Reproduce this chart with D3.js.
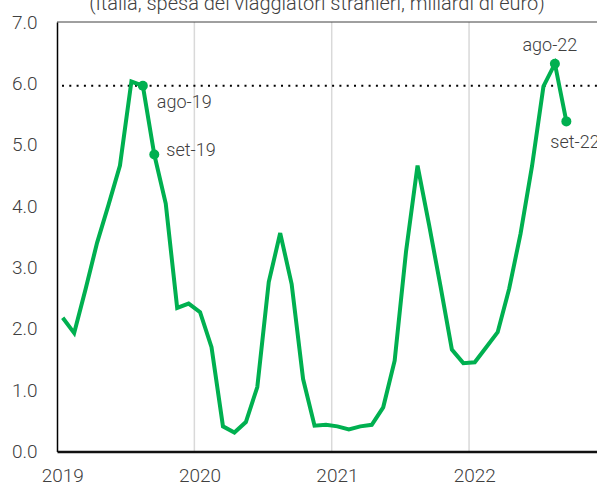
<!DOCTYPE html>
<html>
  <head>
    <meta charset="utf-8" />
    <script src="https://cdn.jsdelivr.net/npm/d3@7"></script>
    <style>
      body { margin: 0; background: #fff; }
      text { font-family: Roboto, "Noto Sans", sans-serif; font-weight: 300; }
    </style>
  </head>
  <body>
    <script>
      // months shown on the category axis (gen-19 ... dic-22)
      const years = [2019, 2020, 2021, 2022];
      const monthNames = ["gen", "feb", "mar", "apr", "mag", "giu", "lug", "ago", "set", "ott", "nov", "dic"];
      const categories = years.flatMap((y) => monthNames.map((m) => m + "-" + String(y).slice(2)));

      // spesa dei viaggiatori stranieri, miliardi di euro (gen-19 ... set-22)
      const values = [
        2.18, 1.93, 2.65, 3.4, 4.02, 4.66, 6.03, 5.96, 4.84, 4.04, 2.34, 2.41,
        2.27, 1.7, 0.41, 0.31, 0.48, 1.05, 2.76, 3.56, 2.73, 1.18, 0.42, 0.435,
        0.41, 0.36, 0.41, 0.435, 0.72, 1.48, 3.27, 4.66, 3.7, 2.7, 1.66, 1.44,
        1.455, 1.7, 1.945, 2.65, 3.55, 4.65, 5.95, 6.32, 5.38
      ];

      const yTicks = [0, 1, 2, 3, 4, 5, 6, 7];
      const highlighted = ["ago-19", "set-19", "ago-22", "set-22"];
      const referenceMonth = "ago-19";
      const title = "(Italia, spesa dei viaggiatori stranieri, miliardi di euro)";

      const width = 597, height = 487;
      const margin = { top: 22, left: 57, bottom: 35.5 };

      const svg = d3.select("body").append("svg")
        .attr("width", width)
        .attr("height", height);

      const data = values.map((v, i) => ({ month: categories[i], value: v }));

      // plot area runs past the right edge of the picture
      const x = d3.scaleBand()
        .domain(categories)
        .range([margin.left, margin.left + categories.length * 11.446]);

      const y = d3.scaleLinear()
        .domain([0, 7])
        .range([height - margin.bottom, margin.top]);

      const cx = (m) => x(m) + x.bandwidth() / 2;

      // title (top half falls outside the picture, as in the source)
      svg.append("text")
        .attr("x", 317)
        .attr("y", 10)
        .attr("text-anchor", "middle")
        .attr("font-size", 20)
        .attr("fill", "#404040")
        .text(title);

      // vertical gridlines between dic and gen
      svg.append("g")
        .selectAll("line")
        .data(years.slice(1))
        .join("line")
        .attr("x1", (yr) => x("gen-" + String(yr).slice(2)))
        .attr("x2", (yr) => x("gen-" + String(yr).slice(2)))
        .attr("y1", y(7))
        .attr("y2", y(0))
        .attr("stroke", "#d9d9d9")
        .attr("stroke-width", 1.5);

      // top border of the plot area
      svg.append("line")
        .attr("x1", margin.left)
        .attr("x2", width)
        .attr("y1", y(7))
        .attr("y2", y(7))
        .attr("stroke", "#404040")
        .attr("stroke-width", 1);

      // y axis
      const yAxis = svg.append("g")
        .attr("transform", `translate(${margin.left},0)`)
        .call(d3.axisLeft(y).tickValues(yTicks).tickFormat(d3.format(".1f")).tickSize(0).tickPadding(19.5));
      yAxis.select(".domain").attr("stroke", "#000").attr("stroke-width", 1.5);
      yAxis.selectAll("text")
        .attr("font-size", 19)
        .attr("font-family", "Roboto, sans-serif")
        .attr("fill", "#404040");

      // x axis, year labels on january
      const xAxis = svg.append("g")
        .attr("transform", `translate(0,${y(0)})`)
        .call(d3.axisBottom(x)
          .tickValues(years.map((yr) => "gen-" + String(yr).slice(2)))
          .tickFormat((m) => "20" + m.slice(4))
          .tickSize(0)
          .tickPadding(17));
      xAxis.select(".domain").attr("stroke", "#111").attr("stroke-width", 2.5);
      xAxis.selectAll("text")
        .attr("font-size", 19)
        .attr("font-family", "Roboto, sans-serif")
        .attr("fill", "#404040");

      // dotted reference line at ago-19 level
      const refValue = data.find((d) => d.month === referenceMonth).value;
      svg.append("line")
        .attr("x1", 62)
        .attr("x2", width)
        .attr("y1", y(refValue))
        .attr("y2", y(refValue))
        .attr("stroke", "#000")
        .attr("stroke-width", 2)
        .attr("stroke-dasharray", "2,5.3");

      // the series
      svg.append("path")
        .datum(data)
        .attr("fill", "none")
        .attr("stroke", "#00b050")
        .attr("stroke-width", 4)
        .attr("stroke-linejoin", "miter")
        .attr("d", d3.line().x((d) => cx(d.month)).y((d) => y(d.value)));

      const marked = data.filter((d) => highlighted.includes(d.month));

      svg.append("g")
        .selectAll("circle")
        .data(marked)
        .join("circle")
        .attr("cx", (d) => cx(d.month))
        .attr("cy", (d) => y(d.value))
        .attr("r", 5)
        .attr("fill", "#00b050");

      // label placement relative to each marker
      const labelPos = {
        "ago-19": { dx: 14, dy: 17, anchor: "start" },
        "set-19": { dx: 12, dy: -3, anchor: "start" },
        "ago-22": { dx: -5, dy: -17, anchor: "middle" },
        "set-22": { dx: -16, dy: 22, anchor: "start" }
      };

      svg.append("g")
        .selectAll("text")
        .data(marked)
        .join("text")
        .attr("x", (d) => cx(d.month) + labelPos[d.month].dx)
        .attr("y", (d) => y(d.value) + labelPos[d.month].dy)
        .attr("dominant-baseline", "middle")
        .attr("text-anchor", (d) => labelPos[d.month].anchor)
        .attr("font-size", 18)
        .attr("fill", "#404040")
        .text((d) => d.month);
    </script>
  </body>
</html>
